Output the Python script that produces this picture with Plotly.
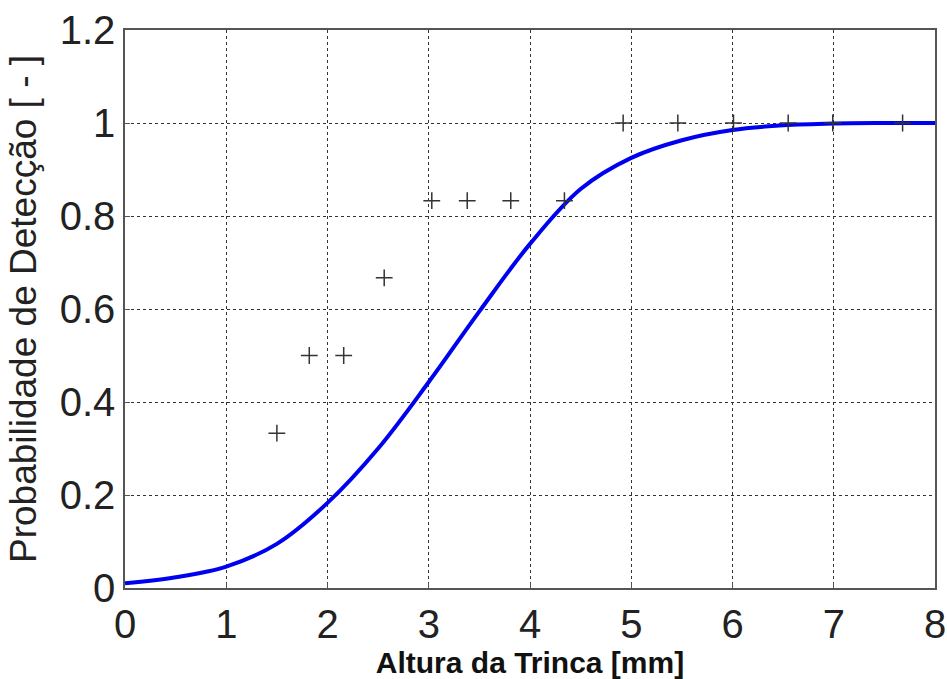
import plotly.graph_objects as go

# Observed detection data (crack height [mm], POD)
obs_x = [1.50, 1.82, 2.16, 2.56, 3.03, 3.38, 3.81, 4.34, 4.92, 5.46, 6.01, 6.55, 6.99, 7.68]
obs_y = [0.333, 0.5, 0.5, 0.667, 0.833, 0.833, 0.833, 0.833, 1.0, 1.0, 1.0, 1.0, 1.0, 1.0]

# Fitted POD curve
curve_x = [0, 0.5, 1.0, 1.5, 2.0, 2.5, 3.0, 3.5, 4.0, 4.5, 5.0, 5.5, 6.0, 6.5, 7.0, 7.5, 8.0]
curve_y = [0.010, 0.023, 0.046, 0.095, 0.183, 0.30, 0.443, 0.595, 0.74, 0.858, 0.925, 0.963, 0.985, 0.995, 0.999, 1.0, 1.0]

x_ticks = [0, 1, 2, 3, 4, 5, 6, 7, 8]
y_ticks = [0, 0.2, 0.4, 0.6, 0.8, 1.0, 1.2]
y_tick_labels = ["0", "0.2", "0.4", "0.6", "0.8", "1", "1.2"]

fig = go.Figure()
fig.add_trace(go.Scatter(
    x=curve_x, y=curve_y, mode="lines",
    line=dict(color="#0000f0", width=4, shape="spline", smoothing=1.0),
    showlegend=False, hoverinfo="skip"))
fig.add_trace(go.Scatter(
    x=obs_x, y=obs_y, mode="markers",
    marker=dict(symbol="cross-thin", size=12, line=dict(color="#333333", width=1.5)),
    showlegend=False))

font_main = "Liberation Sans, Arial, sans-serif"
fig.update_layout(
    width=947, height=679,
    margin=dict(l=125, r=12, t=30, b=91),
    paper_bgcolor="white", plot_bgcolor="white",
    font=dict(family=font_main, color="#111111"),
    xaxis=dict(
        range=[0, 8], tickvals=x_ticks, ticktext=[str(v) for v in x_ticks],
        automargin=False,
        showgrid=True, gridcolor="#333333", griddash="dot", gridwidth=1,
        zeroline=False, showline=True, linecolor="#555555", linewidth=1.5, mirror=True,
        ticks="inside", ticklen=5, tickcolor="#555555",
        tickfont=dict(size=40, color="#222222"),
        title=dict(text="<b>Altura da Trinca [mm]</b>", font=dict(size=30, color="#111111"), standoff=8),
    ),
    yaxis=dict(
        range=[0, 1.2], tickvals=y_ticks, ticktext=y_tick_labels,
        automargin=False,
        showgrid=True, gridcolor="#333333", griddash="dot", gridwidth=1,
        zeroline=False, showline=True, linecolor="#555555", linewidth=1.5, mirror=True,
        ticks="inside", ticklen=5, tickcolor="#555555",
        tickfont=dict(size=40, color="#222222"),
        title=dict(text="Probabilidade de Detecção [ - ]", font=dict(size=37, color="#222222"), standoff=12),
    ),
)

fig.write_html("out.html")
